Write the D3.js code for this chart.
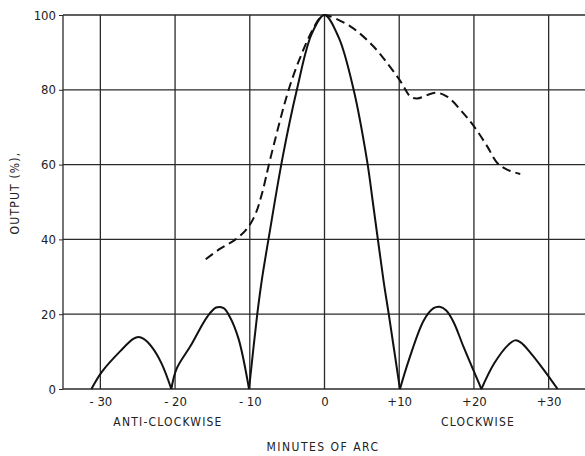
<!DOCTYPE html>
<html>
<head>
<meta charset="utf-8">
<script src="https://cdn.jsdelivr.net/npm/d3@7"></script>
<style>
	body{margin:0;background:#fff;}
	text{font-family:"DejaVu Sans Condensed","DejaVu Sans",sans-serif;fill:#222;}
</style>
</head>
<body>
<svg id="chart" width="585" height="456"></svg>
<script>
	// tick values
	const xTicks = [-30,-20,-10,0,10,20,30];
	const yTicks = [0,20,40,60,80,100];

	// solid curve, split in lobes (minutes, output %)
	const lobeA = [[-31.2,0],[-29.8,4.6],[-27.3,10.2],[-25.6,13.4],[-24.9,13.9],[-24.2,13.4],[-23.1,11.2],[-21.8,6.8],[-20.5,0]];
	const lobeB = [[-20.5,0],[-19.8,5.4],[-17.9,11.6],[-15.7,19.3],[-14.5,21.8],[-13.5,21.6],[-12.7,19.4],[-11.5,13.4],[-10.1,0]];
	const mainLobe = [[-10.1,0],[-9,20],[-8.4,29],[-7.5,40],[-5.6,62],[-3.7,80],[-1.7,95],[0,100],
		[1.9,94],[3.9,80],[5.7,61],[6.4,51],[7.9,29],[8.6,20],[10.1,0]];
	const lobeC = [[10.1,0],[11.3,7.8],[13.3,18.4],[14.6,21.6],[15.4,22],[16.3,21],[17.3,17.8],[18.6,11.3],[21,0]];
	const lobeD = [[21,0],[22.7,6.8],[24.6,11.8],[25.5,13],[26.3,12.4],[27.6,9.6],[29.4,5],[31.2,0]];

	// dashed curve
	const dashed = [[-15.9,34.7],[-13.9,37.6],[-11.9,40],[-10.4,42.8],[-9.3,46.5],[-8.4,52],[-7.2,62],
		[-4.8,80],[-3.2,88.9],[-1.6,96],[-0.5,99.5],[0,100],[3.5,96.9],[6.6,91.5],[8.6,86.6],
		[10.2,82.2],[11.5,78.2],[12.4,77.7],[14.9,79.2],[16.4,78.2],[18.6,73.7],[20.2,69.7],
		[21.8,64.8],[23.1,60.5],[24.5,58.6],[26.2,57.5]];

	(function(){
	const svg = d3.select('#chart');
	const pLeft = 63, pRight = 586, pTop = 15, pBottom = 389;

	const x = d3.scaleLinear().domain([-35,35]).range([pLeft,pRight]);
	const y = d3.scaleLinear().domain([0,100]).range([pBottom,pTop]);

	// grid
	let grid = svg.append('g').attr('stroke','#2a2a2a').attr('stroke-width',1.3);
	grid.selectAll('.h').data(yTicks).enter().append('line')
		.attr('x1',pLeft).attr('x2',pRight)
		.attr('y1',d => y(d)).attr('y2',d => y(d));
	grid.selectAll('.v').data([-35].concat(xTicks)).enter().append('line')
		.attr('y1',pTop).attr('y2',pBottom)
		.attr('x1',d => x(d)).attr('x2',d => x(d));

	// axes labels
	const yAxis = d3.axisLeft(y).tickValues(yTicks).tickSize(4).tickPadding(3);
	svg.append('g').attr('transform','translate(' + pLeft + ',0)').call(yAxis)
		.call(g => g.select('.domain').remove())
		.selectAll('text').style('font-size','13px').attr('fill','#222');

	const xAxis = d3.axisBottom(x).tickValues(xTicks).tickSize(0).tickPadding(8)
		.tickFormat(d => d < 0 ? '- ' + Math.abs(d) : d > 0 ? '+' + d : '0');
	svg.append('g').attr('transform','translate(0,' + pBottom + ')').call(xAxis)
		.call(g => g.select('.domain').remove())
		.selectAll('text').style('font-size','13px').attr('fill','#222');

	svg.selectAll('.tick line').attr('stroke','#2a2a2a');

	svg.append('text').text('ANTI-CLOCKWISE')
		.attr('x',168).attr('y',426).attr('text-anchor','middle')
		.style('font-size','12px').style('letter-spacing','1.2px');
	svg.append('text').text('CLOCKWISE')
		.attr('x',478).attr('y',426).attr('text-anchor','middle')
		.style('font-size','12px').style('letter-spacing','1.2px');
	svg.append('text').text('MINUTES OF ARC')
		.attr('x',323).attr('y',451).attr('text-anchor','middle')
		.style('font-size','12px').style('letter-spacing','1.5px');
	svg.append('text').text('OUTPUT (%),')
		.attr('transform','translate(19,193) rotate(-90)').attr('text-anchor','middle')
		.style('font-size','12px').style('letter-spacing','1.2px');

	// curves
	const solidLine = d3.line().x(d => x(d[0])).y(d => y(d[1])).curve(d3.curveCatmullRom.alpha(0.5));
	svg.append('g').selectAll('path').data([lobeA,lobeB,mainLobe,lobeC,lobeD]).enter().append('path')
		.attr('d',solidLine)
		.attr('fill','none').attr('stroke','#111').attr('stroke-width',2);

	const dashLine = d3.line().x(d => x(d[0])).y(d => y(d[1])).curve(d3.curveCatmullRom.alpha(0.5));
	svg.append('path').datum(dashed)
		.attr('d',dashLine)
		.attr('fill','none').attr('stroke','#111').attr('stroke-width',2)
		.attr('stroke-dasharray','9,5');
	})();
</script>
</body>
</html>
